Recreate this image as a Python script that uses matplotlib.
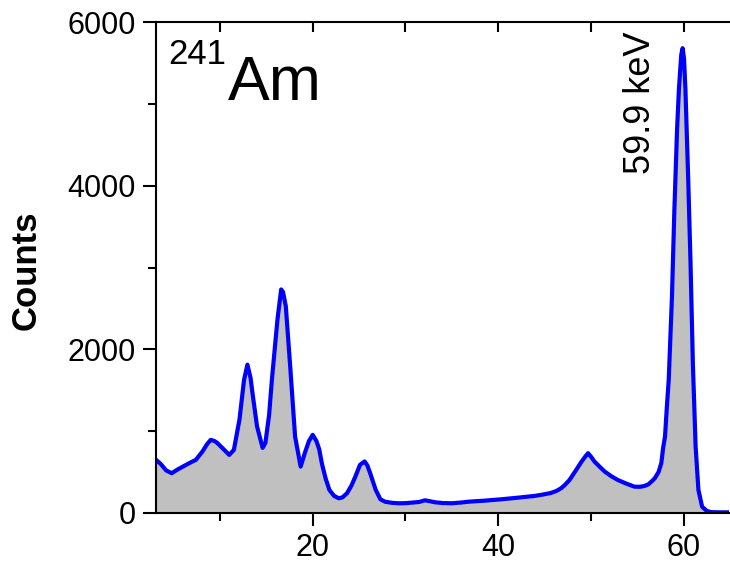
import matplotlib
matplotlib.use("Agg")
import matplotlib.pyplot as plt
from matplotlib.ticker import MultipleLocator

plt.rcParams["font.family"] = ["Liberation Sans", "DejaVu Sans"]

# Am-241 gamma/X-ray spectrum, counts per channel vs energy (keV)
energy_kev = [
    3.1, 3.6, 4.2, 4.8, 5.4, 6.0, 6.7, 7.4, 8.1, 8.6, 9.0, 9.4, 9.7, 10.3,
    11.0, 11.5, 12.1, 12.6, 12.96, 13.3, 13.5, 14.0, 14.6, 14.9, 15.3, 15.6,
    16.2, 16.6, 16.8, 17.1, 17.6, 18.1, 18.7, 19.2, 19.6, 20.0, 20.4, 20.7,
    21.0, 21.4, 21.8, 22.3, 22.8, 23.2, 23.7, 24.2, 24.6, 25.1, 25.6, 25.9,
    26.2, 26.8, 27.3, 27.8, 28.5, 29.2, 30.0, 30.7, 31.5, 32.1, 32.6, 33.2,
    34.0, 35.0, 36.0, 36.8, 37.7, 38.6, 39.5, 40.4, 41.3, 42.2, 43.0, 43.9,
    44.8, 45.7, 46.3, 46.8, 47.2, 47.7, 48.3, 49.0, 49.4, 49.7, 50.0, 50.4,
    51.0, 51.5, 52.2, 52.9, 53.8, 54.7, 55.3, 55.8, 56.2, 56.6, 56.9, 57.3,
    57.6, 57.8, 58.0, 58.2, 58.4, 58.75, 59.0, 59.3, 59.5, 59.75, 59.9,
    60.05, 60.2, 60.5, 60.75, 61.0, 61.3, 61.6, 62.0, 62.5, 63.0, 64.0, 65.0,
]
counts = [
    650, 600, 520, 486, 530, 567, 610, 650, 750, 840, 894, 880, 857, 790,
    710, 772, 1140, 1630, 1813, 1650, 1470, 1057, 796, 857, 1200, 1630,
    2364, 2732, 2700, 2527, 1750, 935, 567, 750, 880, 955, 880, 780,
    600, 420, 282, 210, 180, 190, 241, 340, 445, 588, 630, 580,
    486, 282, 168, 138, 125, 119, 120, 127, 135, 155, 145, 131,
    122, 119, 128, 138, 145, 151, 160, 168, 178, 188, 198, 208,
    225, 245, 270, 303, 343, 404, 506, 628, 690, 731, 690, 628,
    560, 506, 450, 404, 360, 322, 320, 331, 350, 390, 425, 500,
    609, 800, 935, 1300, 1630, 2650, 3675, 4692, 5182, 5600, 5680,
    5550, 5182, 4080, 3060, 1837, 812, 282, 77, 25, 10, 8, 8,
]

fig = plt.figure(figsize=(7.3, 5.62), dpi=100)
ax = fig.add_axes([156 / 730, 49 / 562, 573 / 730, 491 / 562])

ax.fill_between(energy_kev, counts, color="#c0c0c0", lw=0)
ax.plot(energy_kev, counts, color="#0000ff", lw=3)

ax.set_xlim(3.1, 64.9)
ax.set_ylim(0, 6000)

ax.xaxis.set_major_locator(MultipleLocator(20))
ax.xaxis.set_minor_locator(MultipleLocator(10))
ax.yaxis.set_major_locator(MultipleLocator(2000))
ax.yaxis.set_minor_locator(MultipleLocator(1000))

for side in ["left", "bottom", "top"]:
    ax.spines[side].set_linewidth(1.5)
ax.spines["right"].set_visible(False)

ax.tick_params(axis="both", which="major", direction="out", length=9.5,
               width=1.5, labelsize=22, pad=5)
ax.tick_params(axis="both", which="minor", direction="out", length=6,
               width=1.5)
ax.tick_params(axis="x", which="both", top=True, labeltop=False)

# top ticks point into the plot
for tick in ax.xaxis.get_major_ticks() + ax.xaxis.get_minor_ticks():
    tick.tick2line.set_marker(3)
    tick.tick2line.set_markersize(7)

fig.text(26 / 730, 1 - 270 / 562, "Counts", rotation=90, ha="center",
         va="center", fontsize=25, fontweight="bold")

ax.text(0.021, 0.967, "241", transform=ax.transAxes, fontsize=25,
        ha="left", va="top")
ax.text(0.126, 0.841, "Am", transform=ax.transAxes, fontsize=45,
        ha="left", va="baseline")
ax.text(0.845, 0.835, "59.9 keV", transform=ax.transAxes, fontsize=26,
        rotation=90, ha="center", va="center")

fig.savefig("out.png", dpi=100)
